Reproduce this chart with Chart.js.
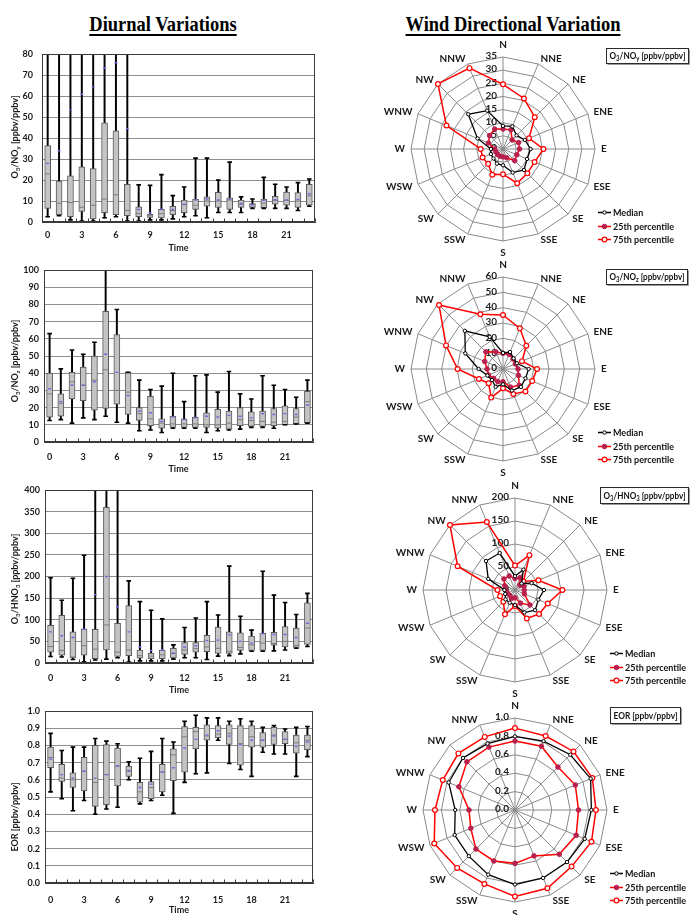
<!DOCTYPE html>
<html>
<head>
<meta charset="utf-8">
<script src="https://cdn.jsdelivr.net/npm/chart.js@4.4.0/dist/chart.umd.min.js"></script>
<style>
  html, body { margin: 0; padding: 0; background: #fff; width: 692px; height: 915px; overflow: hidden; position: relative; }
  canvas { position: absolute; }
  .ttl { position: absolute; top: 11px; line-height: 25px; font: bold 22px "Liberation Serif", "Times New Roman", serif;
         color: #000; white-space: nowrap; text-decoration: underline; text-decoration-thickness: 2px;
         text-underline-offset: 3px; transform: translateX(-50%) scaleX(0.84); }
</style>
</head>
<body>
<div class="ttl" style="left:163px">Diurnal Variations</div>
<div class="ttl" style="left:513px">Wind Directional Variation</div>

<canvas id="c1" width="345" height="215" style="left:0;top:40px"></canvas>
<canvas id="c2" width="345" height="220" style="left:0;top:255px"></canvas>
<canvas id="c3" width="345" height="225" style="left:0;top:475px"></canvas>
<canvas id="c4" width="345" height="215" style="left:0;top:700px"></canvas>

<canvas id="r1" width="347" height="260" style="left:345px;top:19px"></canvas>
<canvas id="r2" width="347" height="260" style="left:345px;top:239px"></canvas>
<canvas id="r3" width="347" height="260" style="left:345px;top:460px"></canvas>
<canvas id="r4" width="347" height="235" style="left:345px;top:680px"></canvas>

<script>
// ---------- hourly statistics (hour of day 0-23) ----------
const hourLabels = ['0','1','2','3','4','5','6','7','8','9','10','11','12','13','14','15','16','17','18','19','20','21','22','23'];

// O3/NOy
const noyMin  = [2.5, 3, 1, 0.5, 0.5, 2, 2.5, 0.5, 0.5, 1, 1, 1.5, 2.5, 3, 2, 4.5, 4.5, 4.5, 6.5, 6.5, 6.5, 6.5, 5.5, 7.5];
const noyQ1   = [6.5, 3.5, 2.5, 5, 1.5, 4.5, 3.5, 3, 2.5, 2.2, 2, 3.5, 4.5, 6, 7.5, 7, 6, 7, 7, 6.8, 8.5, 8, 7, 8];
const noyMed  = [23, 9, 9.3, 7, 8, 11, 13, 5.5, 4, 3.2, 4, 5.5, 8.5, 8, 10, 10, 10.5, 8.5, 8.3, 9, 10.3, 10.3, 10, 12.5];
const noyQ3   = [36.5, 19.5, 22, 26.3, 25.5, 47.3, 43.5, 18, 7.3, 3.8, 6, 7.5, 10.5, 11, 12, 14.2, 11.5, 10.5, 8.8, 11, 12.3, 14.3, 14, 18];
const noyMax  = [120, 110, 130, 150, 160, 190, 210, 140, 17.7, 17.5, 22.6, 12.6, 16.7, 30.5, 30.5, 20, 28.6, 12, 11, 21.3, 18, 16.7, 18.8, 20.5];
const noyMean = [28, 34, 53.5, 61, 64.5, 73.5, 76, 44.5, 6, 4.4, 6, 6, 8.3, 10.5, 11, 10.5, 10.8, 8.8, 8.2, 10.4, 10.6, 10.5, 10.8, 13.5];

// O3/NOz
const nozMin  = [12.5, 13, 11, 14, 13, 15, 11.5, 11, 6.5, 7, 5.5, 8, 8, 8, 5.5, 6.5, 7, 7.5, 8.5, 8.5, 8, 10, 10.5, 11];
const nozQ1   = [14.5, 15, 25, 24, 18.5, 19.5, 22, 16, 12.5, 9.5, 8, 8.5, 8.5, 8.5, 8.5, 8, 7.5, 9.5, 9, 9, 9.5, 10, 10.5, 11];
const nozMed  = [28, 22.5, 35, 33, 36, 42, 30, 29, 16.5, 13.5, 11, 10.5, 10.5, 10.5, 10, 10, 11, 13, 12.5, 12, 11.5, 12, 14.5, 23.5];
const nozQ3   = [40, 28, 40.5, 43.5, 50, 76, 62.5, 40.5, 20, 26.5, 13.5, 15, 13.5, 14.5, 17, 19, 18, 20, 17.5, 18, 19.5, 21, 19.5, 29.5];
const nozMax  = [63, 42.5, 53.5, 51, 58, 130, 77, 40.5, 36, 30.5, 32.5, 40, 23.5, 38.5, 39, 29, 41, 28, 25, 38.5, 33, 30.5, 26, 36];
const nozMean = [31, 23.5, 33, 33, 35, 51, 40.5, 27, 18, 17, 12, 14.5, 13, 14, 15, 14.5, 15.5, 15, 14, 16.5, 16, 16.5, 16, 21.5];

// O3/HNO3
const hno3Min  = [15, 14, 8, 3, 7, 9, 12, 2, 5, 5, 5, 9, 12, 12, 8, 16, 17, 21, 27, 27, 28, 30, 34, 38];
const hno3Q1   = [25, 18, 12, 18, 10, 30, 15, 17, 11, 10, 10, 12, 20, 25, 26, 22, 22, 29, 29, 29, 41, 37, 36, 43];
const hno3Med  = [38, 29, 14, 40, 32, 88, 25, 30, 17, 16, 19, 22, 30, 33, 37, 34, 27, 36, 42, 46, 45, 50, 41, 81];
const hno3Q3   = [87, 110, 72, 79, 78, 360, 92, 133, 30, 23, 30, 34, 47, 47, 64, 83, 72, 70, 62, 69, 71, 84, 81, 139];
const hno3Max  = [197, 145, 196, 249, 520, 800, 560, 190, 142, 122, 102, 42, 82, 104, 142, 111, 224, 108, 76, 212, 157, 140, 112, 161];
const hno3Mean = [72, 63, 59, 78, 158, 200, 130, 72, 37, 29, 30, 23, 37, 40, 52, 53, 65, 50, 46, 68, 66, 66, 59, 92];

// EOR
const eorMin  = [0.53, 0.49, 0.42, 0.48, 0.40, 0.43, 0.44, 0.60, 0.46, 0.48, 0.51, 0.405, 0.585, 0.635, 0.64, 0.83, 0.695, 0.66, 0.62, 0.76, 0.75, 0.75, 0.62, 0.735];
const eorQ1   = [0.67, 0.59, 0.555, 0.535, 0.445, 0.455, 0.565, 0.62, 0.47, 0.49, 0.53, 0.595, 0.645, 0.78, 0.83, 0.845, 0.805, 0.685, 0.79, 0.79, 0.805, 0.81, 0.755, 0.775];
const eorMed  = [0.73, 0.61, 0.60, 0.65, 0.585, 0.63, 0.68, 0.655, 0.53, 0.555, 0.645, 0.745, 0.85, 0.88, 0.855, 0.865, 0.87, 0.81, 0.85, 0.83, 0.86, 0.835, 0.815, 0.83];
const eorQ3   = [0.79, 0.69, 0.64, 0.73, 0.80, 0.805, 0.785, 0.68, 0.585, 0.59, 0.69, 0.78, 0.91, 0.905, 0.92, 0.915, 0.92, 0.915, 0.915, 0.875, 0.905, 0.88, 0.86, 0.86];
const eorMax  = [0.87, 0.77, 0.79, 0.79, 0.84, 0.825, 0.81, 0.705, 0.725, 0.765, 0.84, 0.82, 0.94, 0.975, 0.96, 0.96, 0.94, 0.955, 0.94, 0.905, 0.915, 0.895, 0.905, 0.91];
const eorMean = [0.72, 0.63, 0.61, 0.65, 0.61, 0.63, 0.68, 0.65, 0.555, 0.575, 0.645, 0.67, 0.785, 0.835, 0.86, 0.885, 0.855, 0.805, 0.83, 0.83, 0.855, 0.835, 0.795, 0.82];

// ---------- statistics by wind direction ----------
const directions = ['N','NNE','NE','ENE','E','ESE','SE','SSE','S','SSW','SW','WSW','W','WNW','NW','NNW'];

const noyDirMedian = [8.8, 9.3, 7.3, 9.0, 10.5, 9.9, 11.3, 9.7, 6.2, 6.0, 5.1, 5.0, 4.6, 10.5, 18.7, 15.8];
const noyDirP25    = [7.6, 7.9, 4.9, 6.4, 6.3, 5.7, 6.3, 3.6, 3.0, 3.0, 2.9, 2.9, 3.2, 6.0, 7.2, 8.2];
const noyDirP75    = [24.6, 20.8, 17.1, 10.7, 15.4, 13.0, 13.1, 14.1, 9.6, 10.6, 8.0, 8.4, 8.5, 23.3, 35, 33.3];

const nozDirMedian = [10.5, 12, 9.8, 9.8, 16.7, 15.9, 16.5, 15.2, 10, 12.6, 10.2, 11, 15.9, 26.6, 35.2, 22.7];
const nozDirP25    = [10.2, 10.4, 9.2, 8.7, 9.8, 10.9, 15, 12.8, 8.3, 8.9, 8.6, 10.2, 10.4, 12.9, 15.8, 12];
const nozDirP75    = [35.2, 28.7, 21.5, 13.4, 22.2, 20.6, 20.7, 17.6, 12.6, 20.2, 13.2, 17, 29.6, 40.2, 59, 38.6];

const hno3DirMedian = [30, 48, 20, 39, 63, 55, 62, 53, 33, 30, 29, 23, 23, 63, 89, 87];
const hno3DirP25    = [25, 29, 15, 21, 20, 22, 46, 31, 17, 20, 16, 18, 20, 24, 34, 33];
const hno3DirP75    = [53, 82, 26, 55, 103, 77, 74, 67, 35, 57, 36, 35, 38, 135, 200, 160];

const eorDirMedian = [0.80, 0.81, 0.85, 0.89, 0.83, 0.82, 0.80, 0.80, 0.81, 0.76, 0.71, 0.71, 0.65, 0.78, 0.80, 0.78];
const eorDirP25    = [0.75, 0.75, 0.66, 0.71, 0.69, 0.72, 0.68, 0.54, 0.58, 0.60, 0.60, 0.52, 0.50, 0.66, 0.74, 0.74];
const eorDirP75    = [0.89, 0.87, 0.90, 0.91, 0.88, 0.90, 0.87, 0.92, 0.94, 0.87, 0.89, 0.95, 0.87, 0.85, 0.87, 0.86];

// ---------- drawing helpers ----------
const FONT = 'Lato, "Open Sans", "DejaVu Sans", sans-serif';
Chart.defaults.font.family = FONT;
Chart.defaults.color = '#1a1a1a';

// "O_3" -> O with subscript 3 (one character after the underscore)
function parseRich(s) {
  const parts = []; let buf = '';
  for (let i = 0; i < s.length; i++) {
    if (s[i] === '_' && i + 1 < s.length) {
      if (buf) parts.push({ t: buf, sub: false });
      buf = '';
      parts.push({ t: s[i + 1], sub: true });
      i++;
    } else buf += s[i];
  }
  if (buf) parts.push({ t: buf, sub: false });
  return parts;
}
// centred text with subscripts, squeezed horizontally when wider than maxW
function drawRich(ctx, str, x, y, size, maxW) {
  const parts = parseRich(str);
  const big = `bold ${size}px ${FONT}`;
  const small = `bold ${Math.round(size * 0.72)}px ${FONT}`;
  let w = 0;
  parts.forEach(p => { ctx.font = p.sub ? small : big; w += ctx.measureText(p.t).width; });
  const k = maxW && w > maxW ? maxW / w : 1;
  ctx.save();
  ctx.translate(x, y);
  ctx.scale(k, 1);
  let cx = -w / 2;
  ctx.textAlign = 'left';
  ctx.textBaseline = 'middle';
  parts.forEach(p => {
    ctx.font = p.sub ? small : big;
    ctx.fillText(p.t, cx, p.sub ? size * 0.3 : 0);
    cx += ctx.measureText(p.t).width;
  });
  ctx.restore();
}
function drawSqueezed(ctx, txt, x, y, k) {
  ctx.save();
  ctx.translate(x, y);
  ctx.scale(k, 1);
  ctx.fillText(txt, 0, 0);
  ctx.restore();
}

// frame, inward category ticks and the rotated y title of each box plot
const boxDecor = {
  id: 'boxDecor',
  afterDatasetsDraw(chart, args, opts) {
    const { ctx, chartArea: a } = chart;
    const x = chart.scales.x;
    ctx.save();
    ctx.strokeStyle = '#3a3a3a';
    ctx.lineWidth = 1;
    const L = Math.round(a.left) + 0.5, T = Math.round(a.top) + 0.5;
    const R = Math.round(a.right) - 0.5, B = Math.round(a.bottom) - 0.5;
    ctx.strokeRect(L, T, R - L, B - T);
    for (let i = 0; i <= hourLabels.length; i++) {
      const px = Math.round(x.getPixelForValue(i - 0.5)) + 0.5;
      ctx.beginPath(); ctx.moveTo(px, B); ctx.lineTo(px, B - 3); ctx.stroke();
    }
    ctx.translate(opts.titleX, opts.titleY);
    ctx.rotate(-Math.PI / 2);
    ctx.fillStyle = '#1a1a1a';
    drawRich(ctx, opts.title, 0, 0, 9, 92);
    ctx.restore();
  }
};

function boxChart(id, g, s) {
  const el = document.getElementById(id);
  const W = el.width;
  const lh = 9 * 1.2;
  const padBottom = Math.max(0, g.bottom - g.timeY - lh / 2);
  const xHeight = (g.bottom - padBottom) - g.plotBottom;
  const tickPad = g.labelY - g.plotBottom - lh / 2;
  const tickFont = { family: FONT, weight: 'bold', size: 9 };
  return new Chart(el, {
    data: {
      labels: hourLabels,
      datasets: [
        { type: 'line', label: 'Mean', data: s.mean, showLine: false, pointStyle: 'line', pointRadius: 1.4,
          pointBorderColor: '#6a6ae0', pointBorderWidth: 1.4, borderColor: '#6a6ae0', order: 1 },
        { type: 'line', label: 'Maximum', data: s.max, showLine: false, pointStyle: 'line', pointRadius: 2.3,
          pointBorderColor: '#000', pointBorderWidth: 1.6, borderColor: '#000', order: 2 },
        { type: 'line', label: 'Minimum', data: s.min, showLine: false, pointStyle: 'line', pointRadius: 2.3,
          pointBorderColor: '#000', pointBorderWidth: 1.6, borderColor: '#000', order: 2 },
        { type: 'line', label: 'Median', data: s.med, showLine: false, pointStyle: 'line', pointRadius: 3,
          pointBorderColor: '#7c7c7c', pointBorderWidth: 1, borderColor: '#7c7c7c', order: 3 },
        { type: 'bar', label: 'Interquartile range', data: s.q1.map((v, i) => [v, s.q3[i]]),
          backgroundColor: '#c4c4c4', borderColor: '#595959', borderWidth: 1, borderSkipped: false,
          barThickness: 6, grouped: false, order: 4 },
        { type: 'bar', label: 'Range', data: s.min.map((v, i) => [v, s.max[i]]),
          backgroundColor: '#000', borderWidth: 0, barThickness: 1.3, grouped: false, order: 5 }
      ]
    },
    options: {
      responsive: false, animation: false, devicePixelRatio: 1,
      layout: { padding: { top: g.plotTop - g.top, left: 0, right: W - g.plotRight, bottom: padBottom } },
      plugins: {
        legend: { display: false }, tooltip: { enabled: false },
        boxDecor: { title: s.title, titleX: 15, titleY: g.titleY - g.top }
      },
      scales: {
        x: {
          type: 'category', offset: true,
          grid: { display: false, drawTicks: false },
          border: { display: true, color: '#3a3a3a', width: 1 },
          ticks: { autoSkip: false, maxRotation: 0, minRotation: 0, padding: tickPad, font: tickFont, color: '#1a1a1a',
                   callback: (v, i) => (i % 3 === 0 ? hourLabels[i] : '') },
          title: { display: true, text: 'Time', padding: 0, font: tickFont, color: '#1a1a1a' },
          afterFit: sc => { sc.height = xHeight; }
        },
        y: {
          min: 0, max: s.yMax,
          ticks: { stepSize: s.yStep, padding: g.yPad, font: tickFont, color: '#1a1a1a',
                   callback: v => (s.decimals ? Number(v).toFixed(s.decimals) : v) },
          grid: { color: '#8e8e8e', lineWidth: 1, drawTicks: false },
          border: { display: true, color: '#3a3a3a', width: 1 },
          afterFit: sc => { sc.width = g.plotLeft; }
        }
      }
    },
    plugins: [boxDecor]
  });
}

// tick values, compass labels, legend and title box around each radar
const radarDecor = {
  id: 'radarDecor',
  beforeDatasetsDraw(chart, args, opts) {
    const { ctx } = chart; const sc = chart.scales.r;
    ctx.save();
    ctx.fillStyle = '#222';
    ctx.font = `bold 10px ${FONT}`;
    ctx.textAlign = 'right'; ctx.textBaseline = 'middle';
    sc.ticks.forEach(t => {
      const d = sc.getDistanceFromCenterForValue(t.value);
      const txt = opts.decimals ? Number(t.value).toFixed(opts.decimals) : String(t.value);
      ctx.fillText(txt, sc.xCenter - 6, sc.yCenter - d - 1);
    });
    ctx.restore();
  },
  afterDraw(chart, args, opts) {
    const { ctx } = chart; const sc = chart.scales.r;
    const R = sc.drawingArea, cx = sc.xCenter, cy = sc.yCenter;
    ctx.save();
    // compass labels
    ctx.fillStyle = '#1a1a1a';
    ctx.font = `bold 10px ${FONT}`;
    ctx.textBaseline = 'middle';
    directions.forEach((lab, i) => {
      const ang = i * 360 / directions.length;
      const p = sc.getPointPosition(i, R + 6);
      let x = p.x, y = p.y, align = 'center';
      if (ang === 0) { x = cx; y = cy - R - 12; }
      else if (ang === 180) { x = cx; y = cy + R + 12; }
      else align = ang < 180 ? 'left' : 'right';
      ctx.textAlign = align;
      ctx.fillText(lab, x, y);
    });
    // legend
    chart.data.datasets.forEach((ds, k) => {
      const y = Math.round(cy + 63 + 13.5 * k) + 0.5;
      const x0 = cx + 95;
      ctx.strokeStyle = ds.borderColor; ctx.lineWidth = 1.5;
      ctx.beginPath(); ctx.moveTo(x0, y); ctx.lineTo(x0 + 13, y); ctx.stroke();
      ctx.beginPath(); ctx.arc(x0 + 6.5, y, ds.pointRadius, 0, Math.PI * 2);
      ctx.fillStyle = ds.pointBackgroundColor; ctx.fill();
      ctx.lineWidth = ds.pointBorderWidth; ctx.strokeStyle = ds.pointBorderColor; ctx.stroke();
      ctx.fillStyle = '#111'; ctx.font = `bold 10px ${FONT}`;
      ctx.textAlign = 'left'; ctx.textBaseline = 'middle';
      drawSqueezed(ctx, ds.label, x0 + 15, y, 0.9);
    });
    // boxed title
    const b = opts.box;
    const bx = Math.round(cx + b.dx) + 0.5, by = Math.round(cy + b.dy) + 0.5;
    ctx.fillStyle = '#fff';
    ctx.fillRect(bx, by, b.w, b.h);
    ctx.strokeStyle = '#9a9a9a'; ctx.lineWidth = 1;
    ctx.beginPath(); ctx.moveTo(bx + b.w + 1, by + 1); ctx.lineTo(bx + b.w + 1, by + b.h + 1); ctx.lineTo(bx + 1, by + b.h + 1); ctx.stroke();
    ctx.strokeStyle = '#2a2a2a';
    ctx.strokeRect(bx, by, b.w, b.h);
    ctx.fillStyle = '#111';
    drawRich(ctx, opts.title, bx + b.w / 2, by + b.h / 2, 9.5, b.w - 6);
    ctx.restore();
  }
};

function radarChart(id, canvasTop, cx, cy, s) {
  const el = document.getElementById(id);
  const R = 92;
  const pad = { left: cx - R - 345, right: 692 - (cx + R), top: cy - R - canvasTop, bottom: el.height - (cy + R - canvasTop) };
  return new Chart(el, {
    type: 'radar',
    data: {
      labels: directions,
      datasets: [
        { label: 'Median', data: s.med, borderColor: '#000', borderWidth: 1.3, pointRadius: 1.7,
          pointBackgroundColor: '#fff', pointBorderColor: '#000', pointBorderWidth: 1, fill: false, clip: false },
        { label: '25th percentile', data: s.p25, borderColor: '#ff0000', borderWidth: 1.5, pointRadius: 2.3,
          pointBackgroundColor: '#b8204e', pointBorderColor: '#b8204e', pointBorderWidth: 1, fill: false, clip: false },
        { label: '75th percentile', data: s.p75, borderColor: '#ff0000', borderWidth: 1.5, pointRadius: 2.4,
          pointBackgroundColor: '#fff', pointBorderColor: '#ff0000', pointBorderWidth: 1.2, fill: false, clip: false }
      ]
    },
    options: {
      responsive: false, animation: false, devicePixelRatio: 1,
      layout: { padding: pad },
      elements: { line: { tension: 0 } },
      plugins: {
        legend: { display: false }, tooltip: { enabled: false },
        radarDecor: { title: s.title, box: s.box, decimals: s.decimals }
      },
      scales: {
        r: {
          min: 0, max: s.max,
          ticks: { display: false, stepSize: s.step },
          pointLabels: { display: false },
          grid: { color: '#8a8a8a', lineWidth: 1 },
          angleLines: { color: '#8a8a8a', lineWidth: 1 }
        }
      }
    },
    plugins: [radarDecor]
  });
}

// ---------- hourly box plots ----------
boxChart('c1', { top: 40, bottom: 255, plotTop: 49, plotBottom: 222, plotLeft: 42, plotRight: 315, labelY: 235, timeY: 248, titleY: 137, yPad: 9 },
  { min: noyMin, q1: noyQ1, med: noyMed, q3: noyQ3, max: noyMax, mean: noyMean, yMax: 80, yStep: 10, title: 'O_3/NO_y [ppbv/ppbv]' });
boxChart('c2', { top: 255, bottom: 475, plotTop: 270, plotBottom: 442, plotLeft: 44, plotRight: 313, labelY: 457, timeY: 469, titleY: 361, yPad: 5 },
  { min: nozMin, q1: nozQ1, med: nozMed, q3: nozQ3, max: nozMax, mean: nozMean, yMax: 100, yStep: 10, title: 'O_3/NO_z [ppbv/ppbv]' });
boxChart('c3', { top: 475, bottom: 700, plotTop: 490, plotBottom: 663, plotLeft: 45, plotRight: 313, labelY: 678, timeY: 690, titleY: 579, yPad: 5 },
  { min: hno3Min, q1: hno3Q1, med: hno3Med, q3: hno3Q3, max: hno3Max, mean: hno3Mean, yMax: 400, yStep: 50, title: 'O_3/HNO_3 [ppbv/ppbv]' });
boxChart('c4', { top: 700, bottom: 915, plotTop: 711, plotBottom: 883, plotLeft: 45, plotRight: 313, labelY: 900, timeY: 910, titleY: 817, yPad: 5 },
  { min: eorMin, q1: eorQ1, med: eorMed, q3: eorQ3, max: eorMax, mean: eorMean, yMax: 1, yStep: 0.1, decimals: 1, title: 'EOR [ppbv/ppbv]' });

// ---------- wind-direction radars ----------
radarChart('r1', 19, 503, 149, { med: noyDirMedian, p25: noyDirP25, p75: noyDirP75, max: 35, step: 5,
  title: 'O_3/NO_y [ppbv/ppbv]', box: { dx: 103, dy: -101, w: 82, h: 15 } });
radarChart('r2', 239, 503, 369, { med: nozDirMedian, p25: nozDirP25, p75: nozDirP75, max: 60, step: 10,
  title: 'O_3/NO_z [ppbv/ppbv]', box: { dx: 103, dy: -100, w: 81, h: 15 } });
radarChart('r3', 460, 515, 590, { med: hno3DirMedian, p25: hno3DirP25, p75: hno3DirP75, max: 200, step: 50,
  title: 'O_3/HNO_3 [ppbv/ppbv]', box: { dx: 85, dy: -103, w: 88, h: 16 } });
radarChart('r4', 680, 515, 810, { med: eorDirMedian, p25: eorDirP25, p75: eorDirP75, max: 1, step: 0.2, decimals: 1,
  title: 'EOR [ppbv/ppbv]', box: { dx: 95, dy: -103, w: 70, h: 16 } });
</script>
</body>
</html>
